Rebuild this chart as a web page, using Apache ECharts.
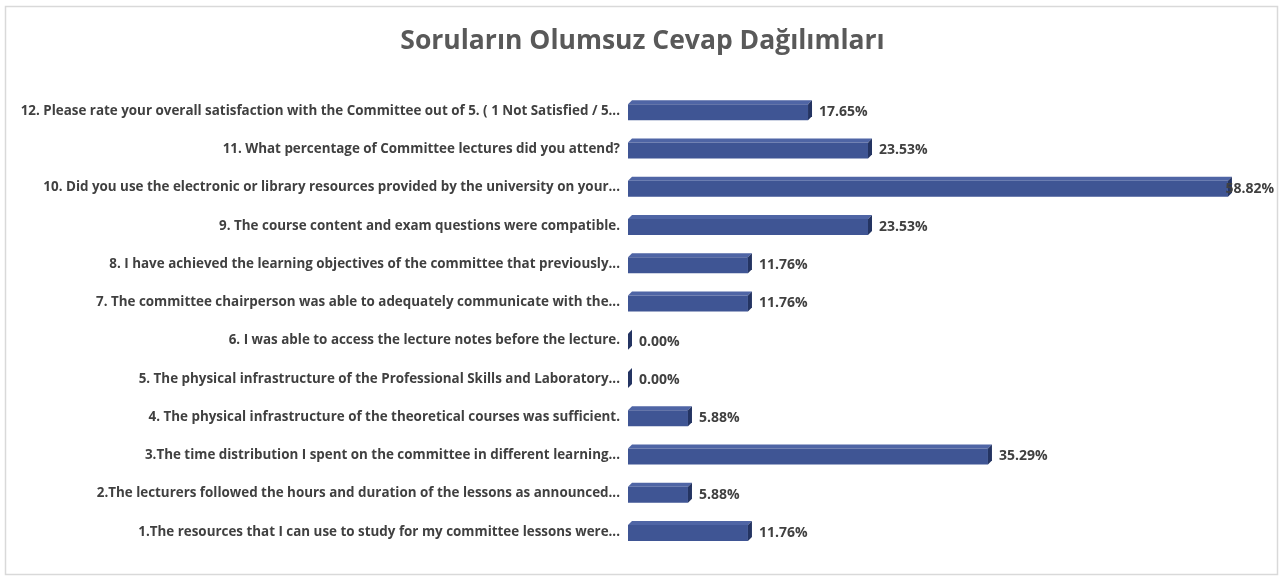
<!DOCTYPE html>
<html>
<head>
<meta charset="utf-8">
<script src="https://cdn.jsdelivr.net/npm/echarts@6/dist/echarts.min.js"></script>
<style>
  html, body { margin: 0; padding: 0; background: #fff; }
  #chart { width: 1285px; height: 577px; }
</style>
</head>
<body>
<div id="chart"></div>
<script>
// questions, bottom (1) to top (12)
const questions = [
  '1.The resources that I can use to study for my committee lessons were...',
  '2.The lecturers followed the hours and duration of the lessons as announced...',
  '3.The time distribution I spent on the committee in different learning...',
  '4. The physical infrastructure of the theoretical courses was sufficient.',
  '5. The physical infrastructure of the Professional Skills and Laboratory...',
  '6. I was able to access the lecture notes before the lecture.',
  '7. The committee chairperson was able to adequately communicate with the...',
  '8. I have achieved the learning objectives of the committee that previously...',
  '9. The course content and exam questions were compatible.',
  '10. Did you use the electronic or library resources provided by the university on your...',
  '11. What percentage of Committee lectures did you attend?',
  '12. Please rate your overall satisfaction with the Committee out of 5. ( 1 Not Satisfied / 5...'
]
const negativePct = [11.76, 5.88, 35.29, 5.88, 0, 0, 11.76, 11.76, 23.53, 58.82, 23.53, 17.65]

const myChart = echarts.init(document.getElementById('chart'))

const FRONT_H = 16
const DEPTH = 4

function renderBar(params, api) {
  const idx = api.value(0)
  const val = api.value(1)
  const start = api.coord([0, idx])
  const end = api.coord([val, idx])
  const x0 = start[0]
  const x1 = end[0]
  const yTop = start[1] - FRONT_H / 2 + 1
  const yBot = yTop + FRONT_H
  const d = DEPTH
  // keep the label inside the chart border (the long bar's label overlaps its end)
  let labelX = x1 + d + 7
  let align = 'left'
  if (labelX + 50 > api.getWidth() - 10) {
    labelX = api.getWidth() - 11
    align = 'right'
  }
  return {
    type: 'group',
    children: [
      {
        type: 'polygon',
        shape: { points: [[x0, yTop], [x0 + d, yTop - d], [x1 + d, yTop - d], [x1, yTop]] },
        style: { fill: '#4f65a5' }
      },
      {
        type: 'rect',
        shape: { x: x0, y: yTop, width: x1 - x0, height: FRONT_H },
        style: { fill: '#3f5594' }
      },
      {
        type: 'polygon',
        shape: { points: [[x1, yTop], [x1 + d, yTop - d], [x1 + d, yBot - d], [x1, yBot]] },
        style: { fill: '#243462' }
      },
      {
        type: 'text',
        style: {
          x: labelX,
          y: start[1] + 1,
          text: val.toFixed(2) + '%',
          fill: '#404040',
          font: 'bold 14px "Open Sans", sans-serif',
          align: align,
          verticalAlign: 'middle'
        }
      }
    ]
  }
}

const option = {
  backgroundColor: '#fff',
  animation: false,
  title: {
    text: 'Soruların Olumsuz Cevap Dağılımları',
    left: 'center',
    top: 23,
    textStyle: {
      color: '#595959',
      fontSize: 26.5,
      fontWeight: 'bold',
      fontFamily: '"Open Sans", sans-serif'
    }
  },
  graphic: [{
    type: 'rect',
    shape: { x: 5.5, y: 6.5, width: 1272, height: 568 },
    style: { fill: 'none', stroke: '#d9d9d9', lineWidth: 1.5 },
    silent: true
  }],
  grid: { left: 628, right: 45, top: 92, bottom: 26 },
  xAxis: {
    type: 'value',
    min: 0,
    max: 60,
    show: false
  },
  yAxis: {
    type: 'category',
    data: questions,
    axisLine: { show: false },
    axisTick: { show: false },
    splitLine: { show: false },
    axisLabel: {
      margin: 8,
      color: '#404040',
      fontSize: 13.4,
      fontWeight: 'bold',
      fontFamily: '"Open Sans", sans-serif'
    }
  },
  series: [{
    type: 'custom',
    renderItem: renderBar,
    encode: { x: 1, y: 0 },
    data: negativePct.map((v, i) => [i, v]),
    clip: false
  }]
}
option && myChart.setOption(option)
</script>
</body>
</html>
